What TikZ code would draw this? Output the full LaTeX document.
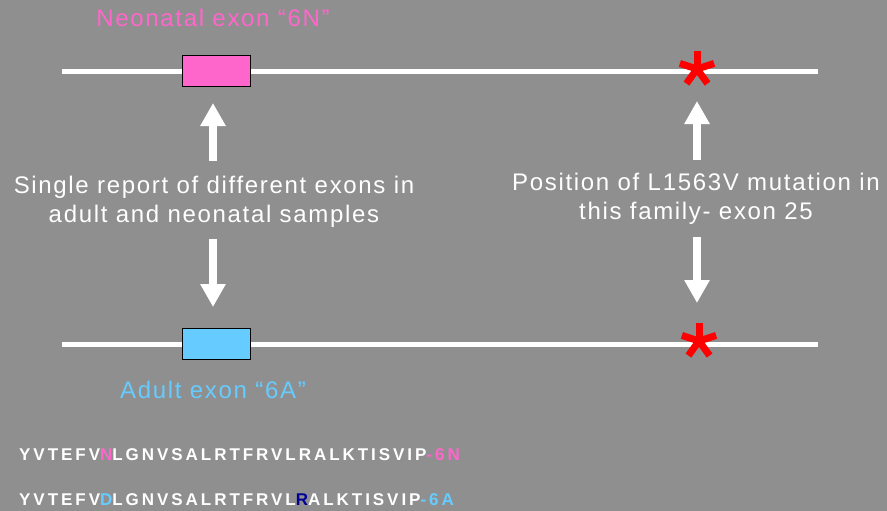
\documentclass[tikz,border=0pt]{standalone}
\usepackage{fontspec}
\setmainfont{Liberation Sans}
\usetikzlibrary{arrows.meta}
\definecolor{bggray}{RGB}{143,143,143}
\definecolor{neopink}{RGB}{255,102,204}
\definecolor{adultblue}{RGB}{102,204,255}
\definecolor{darkres}{RGB}{0,0,153}
\definecolor{starred}{RGB}{255,0,0}
\newcommand{\labelfont}{\fontsize{24}{29}\selectfont\addfontfeatures{LetterSpace=7}}
\newcommand{\seqfont}{\fontsize{17}{20}\selectfont\bfseries\addfontfeatures{LetterSpace=17.4}}
\tikzset{
  strand/.style={draw=white, line width=5pt},
  exon/.style={draw=black, line width=1pt, minimum width=68pt, minimum height=31pt, inner sep=0pt},
  bigarrow/.style={draw=white, line width=8pt, -{Triangle[length=23pt,width=24pt]}},
  note/.style={text=white, align=center, inner sep=0pt, font=\labelfont},
  exlabel/.style={inner sep=0pt, font=\labelfont, anchor=base},
  seq/.style={text=white, inner sep=0pt, font=\seqfont, anchor=base west},
  stararm/.style={draw=starred, line width=7pt}
}
% five-armed mutation marker
\newcommand{\mutstar}[1]{%
  \foreach \ang in {90,18,162,234,306}{\draw[stararm] (#1) -- ++(\ang:18pt);}%
}
\begin{document}
\begin{tikzpicture}[x=1pt,y=-1pt]
  \fill[bggray] (0,0) rectangle (887,511);
  \useasboundingbox (0,0) rectangle (887,511);

  % the two transcripts
  \coordinate (n0) at (62,72);  \coordinate (n1) at (818,72);
  \coordinate (a0) at (62,344); \coordinate (a1) at (818,344);
  \draw[strand] (n0) -- (n1);
  \draw[strand] (a0) -- (a1);

  % alternative exons
  \node[exon, fill=neopink]   (ex6n) at (216,71.5) {};
  \node[exon, fill=adultblue] (ex6a) at (216,344) {};
  \node[exlabel, text=neopink]   (lab6n) at (213,27)  {Neonatal exon “6N”};
  \node[exlabel, text=adultblue] (lab6a) at (213,398) {Adult exon “6A”};

  % mutation sites
  \coordinate (mutn) at (697,69);
  \coordinate (muta) at (699,341);
  \mutstar{mutn}
  \mutstar{muta}

  % explanatory notes
  \node[note] (exnote) at (214,202) {Single report of different exons in\\adult and neonatal samples};
  \node[note] (mutnote) at (696,199) {Position of L1563V mutation in\\this family- exon 25};

  % arrows
  \coordinate (ex6nup) at (213,103);  \coordinate (ex6nbase) at (213,161);
  \coordinate (ex6adn) at (213,307);  \coordinate (ex6abase) at (213,239);
  \coordinate (mutup) at (697,101);   \coordinate (mutupbase) at (697,160);
  \coordinate (mutdn) at (697,303);   \coordinate (mutdnbase) at (697,237);
  \draw[bigarrow] (ex6nbase) -- (ex6nup);
  \draw[bigarrow] (ex6abase) -- (ex6adn);
  \draw[bigarrow] (mutupbase) -- (mutup);
  \draw[bigarrow] (mutdnbase) -- (mutdn);

  % protein sequences
  \node[seq] (seqn) at (19,460) {YVTEFV\textcolor{neopink}{N}LGNVSALRTFRVLRALKTISVIP\textcolor{neopink}{-6N}};
  \node[seq] (seqa) at (19,505) {YVTEFV\textcolor{adultblue}{D}LGNVSALRTFRVL\textcolor{darkres}{R}ALKTISVIP\textcolor{adultblue}{-6A}};
\end{tikzpicture}
\end{document}
